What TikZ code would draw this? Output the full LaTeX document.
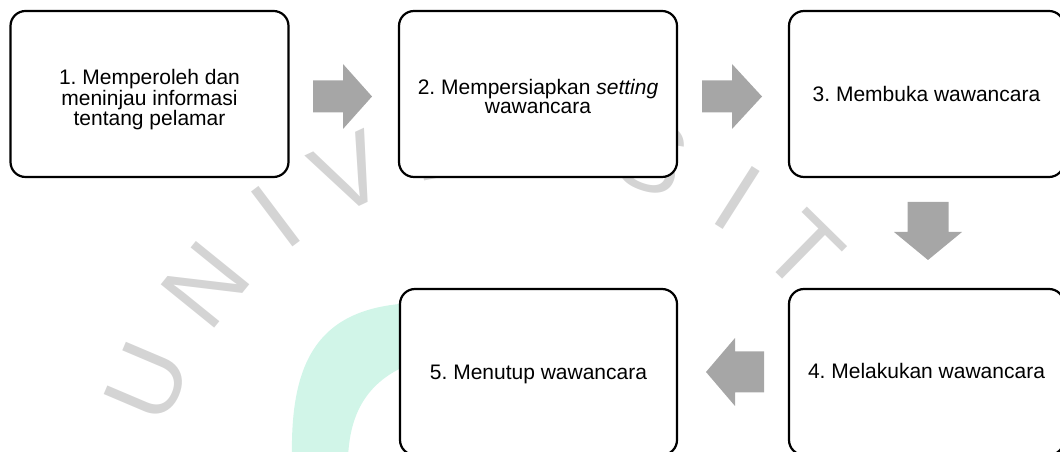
\documentclass[tikz,border=0pt]{standalone}
\usepackage{fontspec}
\setmainfont{Liberation Sans}
\frenchspacing
\definecolor{arrowgray}{RGB}{166,166,166}
\definecolor{wmgray}{RGB}{212,212,212}
\definecolor{mint}{RGB}{209,245,232}
\begin{document}
\begin{tikzpicture}[x=1pt,y=1pt,
  stepbox/.style={draw=black, line width=2.2pt, rounded corners=15pt,
    fill=white, inner sep=0pt, minimum height=166pt},
  steptext/.style={align=center, inner sep=0pt,
    font=\fontsize{21}{19}\selectfont},
  blockarrow/.style={fill=arrowgray},
  wmark/.style={text=wmgray, inner sep=0pt, font=\fontsize{100}{100}\selectfont}]

\useasboundingbox (0,0) rectangle (1060,452);
\clip (0,0) rectangle (1060,452);

% background logo band and lettering
\fill[mint] (432,149) .. controls (320,152) and (290,95) .. (292,-6)
  -- (348,-6) .. controls (350,45) and (372,80) .. (432,95) -- cycle;
\foreach \ch/\ang [count=\i] in {U/157, N/141, I/127, V/115, E/101, R/86,
    S/71, I/57.5, T/45.5, A/32}
  \node[wmark, rotate=\ang-90] (wm\i) at ([shift={(520,-88)}]\ang:405) {\ch};

% process steps
\node[stepbox, minimum width=278pt] (s1) at (149.5,358) {};
\node[stepbox, minimum width=278pt] (s2) at (538,358) {};
\node[stepbox, minimum width=275pt] (s3) at (926.5,358) {};
\node[stepbox, minimum width=275pt] (s4) at (926.5,80) {};
\node[stepbox, minimum width=277pt] (s5) at (538.5,80) {};

\node[steptext] (t1) at ([yshift=-6pt]s1.center)
  {1. Memperoleh dan\\meninjau informasi\\tentang pelamar};
\node[steptext] (t2) at ([yshift=-3pt]s2.center)
  {2. Mempersiapkan \textit{setting}\\wawancara};
\node[steptext] (t3) at (s3.center) {3. Membuka wawancara};
\node[steptext] (t4) at ([yshift=1pt]s4.center) {4. Melakukan wawancara};
\node[steptext] (t5) at ([yshift=-2.5pt]s5.center) {5. Menutup wawancara};

% block arrows between the steps
\fill[blockarrow] (313,339.5) -- (343,339.5) -- (343,323) -- (372,355.5)
  -- (343,388) -- (343,371.5) -- (313,371.5) -- cycle;
\fill[blockarrow] (702,339.5) -- (732,339.5) -- (732,323) -- (762,355.5)
  -- (732,388) -- (732,371.5) -- (702,371.5) -- cycle;
\fill[blockarrow] (907.5,250) -- (948.5,250) -- (948.5,220) -- (962,220)
  -- (928,192) -- (894,220) -- (907.5,220) -- cycle;
\fill[blockarrow] (764,59.5) -- (764,100.5) -- (735,100.5) -- (735,114)
  -- (706,80) -- (735,46) -- (735,59.5) -- cycle;
\end{tikzpicture}
\end{document}
